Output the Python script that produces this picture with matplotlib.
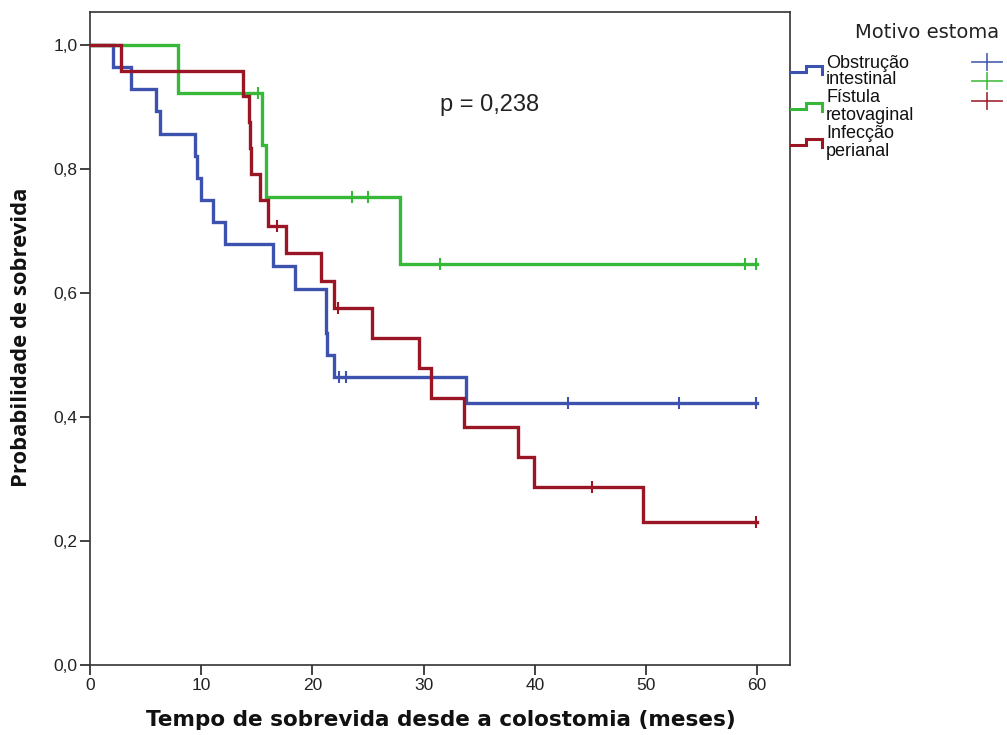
import matplotlib
matplotlib.use("Agg")
import matplotlib.pyplot as plt
from matplotlib.lines import Line2D
import numpy as np

plt.rcParams['font.family'] = ['Liberation Sans', 'DejaVu Sans']

# ---- data ----
group_names = ["Obstrução\nintestinal", "Fístula\nretovaginal", "Infecção\nperianal"]
group_colors = ["#3d52ae", "#38b838", "#9b1624"]

# Obstrução intestinal
obs_times = [0, 2.1, 3.7, 5.9, 6.3, 9.45, 9.65, 9.95, 11.1, 12.1, 16.5, 18.4, 21.2, 21.25, 21.35, 21.9, 33.8]
obs_surv = [1.0, 0.964, 0.929, 0.893, 0.857, 0.821, 0.786, 0.750, 0.714, 0.679, 0.643, 0.607, 0.571, 0.536, 0.500, 0.464, 0.422]
obs_cens = [22.4, 23.0, 43.0, 53.0, 59.9]
obs_end = 60.0

# Fístula retovaginal
fis_times = [0, 7.9, 15.5, 15.8, 27.9]
fis_surv = [1.0, 0.923, 0.839, 0.755, 0.647]
fis_cens = [15.1, 23.6, 25.0, 31.5, 58.9, 59.9]
fis_end = 60.0

# Infecção perianal
inf_times = [0, 2.8, 13.8, 14.3, 14.4, 14.5, 15.3, 16.0, 17.6, 20.8, 21.9, 25.4, 29.6, 30.7, 33.6, 38.5, 39.9, 49.7]
inf_surv = [1.0, 0.958, 0.917, 0.875, 0.833, 0.792, 0.750, 0.708, 0.664, 0.620, 0.575, 0.527, 0.479, 0.431, 0.383, 0.335, 0.287, 0.230]
inf_cens = [16.8, 22.3, 45.1, 59.9]
inf_end = 60.0

p_text = "p = 0,238"
x_ticks = [0, 10, 20, 30, 40, 50, 60]
y_ticks = [0.0, 0.2, 0.4, 0.6, 0.8, 1.0]
y_ticklabels = ["0,0", "0,2", "0,4", "0,6", "0,8", "1,0"]

W, H = 1007, 735
fig = plt.figure(figsize=(W / 100, H / 100), dpi=100)
ax = fig.add_axes([90 / W, 1 - 665 / H, 700 / W, 653 / H])

groups = [
    (obs_times, obs_surv, obs_cens, obs_end),
    (fis_times, fis_surv, fis_cens, fis_end),
    (inf_times, inf_surv, inf_cens, inf_end),
]

def surv_at(times, surv, t):
    idx = np.searchsorted(times, t, side="right") - 1
    return surv[idx]

for (times, surv, cens, tend), col in zip(groups, group_colors):
    xs = list(times) + [tend]
    ys = list(surv) + [surv[-1]]
    ax.step(xs, ys, where="post", color=col, lw=2.4, solid_joinstyle="miter", zorder=3)
    cy = [surv_at(times, surv, c) for c in cens]
    ax.plot(cens, cy, ls="none", marker="|", ms=9, mew=1.5, color=col, zorder=4)

ax.set_xlim(0, 62.95)
ax.set_ylim(0, 1.053)
ax.set_xticks(x_ticks)
ax.set_yticks(y_ticks)
ax.set_yticklabels(y_ticklabels)
ax.tick_params(axis="both", direction="out", length=7, width=1.2, colors="#222222",
               labelsize=12.5, labelcolor="#222222", pad=2)
for s in ax.spines.values():
    s.set_linewidth(1.2)
    s.set_color("#333333")

ax.text((440 - 90) / 700, 1.0 - (105 - 12) / 653, p_text, transform=ax.transAxes, ha="left", va="center",
        fontsize=17, color="#222222")

fig.text(441 / W, 1 - 720 / H, "Tempo de sobrevida desde a colostomia (meses)", ha="center", va="center",
         fontsize=15.5, fontweight="bold", family="DejaVu Sans", color="#111111")
fig.text(22 / W, 1 - 337 / H, "Probabilidade de sobrevida", ha="center", va="center", rotation=90,
         fontsize=15.8, fontweight="bold", family="Open Sans", color="#111111")

# ---- legend (drawn in figure pixel coordinates) ----
def fx(px):
    return px / W

def fy(py):
    return 1 - py / H

fig.text(fx(927), fy(33), "Motivo estoma", ha="center", va="center", fontsize=14,
         family="DejaVu Sans", color="#222222")
leg_low = [72, 109, 145]
leg_high = [66, 103, 139]
leg_text_y = [(63, 80), (98, 116), (134, 152)]
plus_y = [62, 81, 101]
for i, col in enumerate(group_colors):
    lo, hi = leg_low[i], leg_high[i]
    fig.add_artist(Line2D([fx(791), fx(806), fx(806), fx(822), fx(822)],
                          [fy(lo), fy(lo), fy(hi), fy(hi), fy(lo + 2)],
                          color=col, lw=2.2, solid_joinstyle="miter"))
    l1, l2 = group_names[i].split("\n")
    fig.text(fx(826), fy(leg_text_y[i][0]), l1, ha="left", va="center", fontsize=13,
             color="#111111")
    fig.text(fx(826), fy(leg_text_y[i][1]), l2, ha="left", va="center", fontsize=13,
             color="#111111")
    fig.add_artist(Line2D([fx(972), fx(1002)], [fy(plus_y[i]), fy(plus_y[i])], color=col, lw=1.3, alpha=0.85))
    fig.add_artist(Line2D([fx(987), fx(987)], [fy(plus_y[i] - 8), fy(plus_y[i] + 8)], color=col, lw=1.3, alpha=0.85))

fig.savefig("out.png", dpi=100, facecolor="white")
